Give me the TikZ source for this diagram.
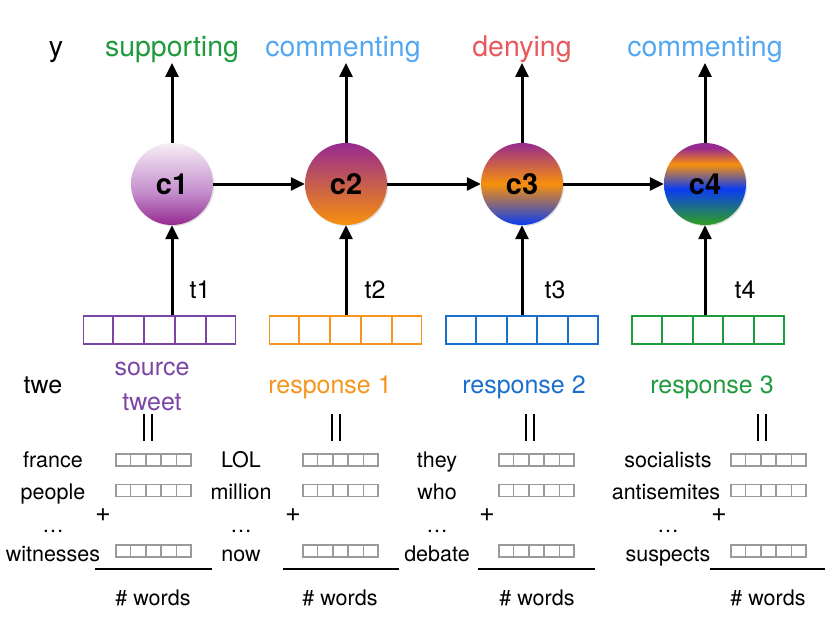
\documentclass[tikz,border=0pt]{standalone}
\usepackage{fontspec}
\setmainfont{TeX Gyre Heros}
\usetikzlibrary{arrows.meta,shadows,calc}
\definecolor{cgreen}{HTML}{1F9A3C}
\definecolor{clblue}{HTML}{54A8F2}
\definecolor{cred}{HTML}{E8585C}
\definecolor{cpurp}{HTML}{7B45A6}
\definecolor{corange}{HTML}{F5951E}
\definecolor{cblue}{HTML}{1A6FCC}
\definecolor{cgray}{HTML}{9A9A9A}
\definecolor{spurple}{HTML}{962A90}
\definecolor{slav}{HTML}{C48ECC}
\definecolor{swhite}{HTML}{F6EEF6}
\definecolor{sorange}{HTML}{F8900C}
\definecolor{sblue}{HTML}{0A3CF2}
\definecolor{sgreen}{HTML}{2E9C2A}
\pgfdeclareverticalshading{shone}{100bp}{color(0bp)=(spurple); color(25bp)=(spurple); color(45bp)=(slav); color(75bp)=(swhite); color(100bp)=(swhite)}
\pgfdeclareverticalshading{shtwo}{100bp}{color(0bp)=(sorange); color(25bp)=(sorange); color(75bp)=(spurple); color(100bp)=(spurple)}
\pgfdeclareverticalshading{shthree}{100bp}{color(0bp)=(sblue); color(25bp)=(sblue); color(50bp)=(sorange); color(75bp)=(spurple); color(100bp)=(spurple)}
\pgfdeclareverticalshading{shfour}{100bp}{color(0bp)=(sgreen); color(26bp)=(sgreen); color(47bp)=(sblue); color(62bp)=(sorange); color(72bp)=(spurple); color(100bp)=(spurple)}
\newcommand\cellsplit[2]{%
  \foreach \i in {1,...,4}
    \draw[#2] ($(#1.north west)!\i/5!(#1.north east)$) -- ($(#1.south west)!\i/5!(#1.south east)$);}
\begin{document}
\begin{tikzpicture}[x=1pt,y=-1pt,
  cnode/.style={circle, minimum size=82pt, inner sep=0pt,
    font=\fontsize{29}{33}\selectfont\bfseries,
    drop shadow={opacity=0.25,shadow xshift=1.2pt,shadow yshift=-1.2pt}},
  arr/.style={line width=3pt, -{Triangle[length=14pt,width=13pt]}},
  toplab/.style={anchor=base, font=\fontsize{28.5}{32}\selectfont, inner sep=0pt},
  reslab/.style={anchor=base, font=\fontsize{25}{29}\selectfont, inner sep=0pt},
  tlab/.style={anchor=base, font=\fontsize{25}{29}\selectfont, inner sep=0pt},
  word/.style={anchor=base, font=\fontsize{21.5}{25}\selectfont, inner sep=0pt},
  plus/.style={anchor=base, font=\fontsize{27}{31}\selectfont, inner sep=0pt, text height=13pt, text depth=0pt},
  bigvec/.style={draw, line width=1.8pt, minimum width=152pt, minimum height=28pt, inner sep=0pt},
  smallvec/.style={draw=cgray, line width=1.3pt, minimum width=75pt, minimum height=12pt, inner sep=0pt},
  sumline/.style={line width=1.2pt},
  eqline/.style={line width=1.3pt}
]
\useasboundingbox (0,0) rectangle (830,623);

% circles
\node[cnode, shading=shone] (c1) at (172,184) {c1};
\node[cnode, shading=shtwo] (c2) at (346,184) {c2};
\node[cnode, shading=shthree] (c3) at (522,184) {c3};
\node[cnode, shading=shfour] (c4) at (705,184) {c4};

% top labels
\node[toplab] (ylab) at (56,57) {y};
\node[toplab, text=cgreen] (l1) at (172,57) {supporting};
\node[toplab, text=clblue] (l2) at (343,57) {commenting};
\node[toplab, text=cred] (l3) at (522,57) {denying};
\node[toplab, text=clblue] (l4) at (705,57) {commenting};

\coordinate (y1) at (172,63);
\coordinate (y2) at (346,63);
\coordinate (y3) at (522,63);
\coordinate (y4) at (705,63);
\draw[arr] (c1.north) -- (y1);
\draw[arr] (c2.north) -- (y2);
\draw[arr] (c3.north) -- (y3);
\draw[arr] (c4.north) -- (y4);

\draw[arr] (c1.east) -- (c2.west);
\draw[arr] (c2.east) -- (c3.west);
\draw[arr] (c3.east) -- (c4.west);

% big vectors
\node[bigvec, draw=cpurp] (v1) at (159.5,330) {};
\node[bigvec, draw=corange] (v2) at (345.5,330) {};
\node[bigvec, draw=cblue] (v3) at (522,330) {};
\node[bigvec, draw=cgreen] (v4) at (708,330) {};
\cellsplit{v1}{cpurp, line width=1.8pt}
\cellsplit{v2}{corange, line width=1.8pt}
\cellsplit{v3}{cblue, line width=1.8pt}
\cellsplit{v4}{cgreen, line width=1.8pt}

\draw[arr] (c1 |- v1.north) -- (c1.south);
\draw[arr] (c2 |- v2.north) -- (c2.south);
\draw[arr] (c3 |- v3.north) -- (c3.south);
\draw[arr] (c4 |- v4.north) -- (c4.south);

\node[tlab] (t1) at (200,298) {t1};
\node[tlab] (t2) at (375,298) {t2};
\node[tlab] (t3) at (555,298) {t3};
\node[tlab] (t4) at (745,298) {t4};

% labels under vectors
\node[reslab] (twe) at (43,393) {twe};
\node[reslab, text=cpurp] (s1) at (152,375) {source};
\node[reslab, text=cpurp] (s2) at (152,410) {tweet};
\node[reslab, text=corange] (r1) at (330,393) {response 1};
\node[reslab, text=cblue] (r2) at (524,393) {response 2};
\node[reslab, text=cgreen] (r3) at (712,393) {response 3};

% equality bars
\foreach \x/\n in {148/1,336/2,530/3,762/4}{
  \coordinate (ea\n) at (\x-4,414);
  \coordinate (eb\n) at (\x-4,441);
  \coordinate (ec\n) at (\x+4,414);
  \coordinate (ed\n) at (\x+4,441);
  \draw[eqline] (ea\n) -- (eb\n);
  \draw[eqline] (ec\n) -- (ed\n);
}

% group 1
\node[word] (w11) at (53,467) {france};
\node[word] (w12) at (53,499) {people};
\node[word] (w13) at (53,532) {\dots};
\node[word] (w14) at (53,561) {witnesses};
\node[smallvec] (s11) at (153.5,460) {};
\node[smallvec] (s12) at (153.5,490.5) {};
\node[smallvec] (s14) at (153.5,551) {};
\node[plus] (p1) at (103,521) {+};
\coordinate (la1) at (95,569);
\coordinate (lb1) at (212,569);
\draw[sumline] (la1) -- (lb1);
\node[word] (n1) at (153,605) {\# words};

% group 2
\node[word] (w21) at (241,467) {LOL};
\node[word] (w22) at (241,499) {million};
\node[word] (w23) at (241,532) {\dots};
\node[word] (w24) at (241,561) {now};
\node[smallvec] (s21) at (340.5,460) {};
\node[smallvec] (s22) at (340.5,490.5) {};
\node[smallvec] (s24) at (340.5,551) {};
\node[plus] (p2) at (293,521) {+};
\coordinate (la2) at (283,569);
\coordinate (lb2) at (399,569);
\draw[sumline] (la2) -- (lb2);
\node[word] (n2) at (340,605) {\# words};

% group 3
\node[word] (w31) at (437,467) {they};
\node[word] (w32) at (437,499) {who};
\node[word] (w33) at (437,532) {\dots};
\node[word] (w34) at (437,561) {debate};
\node[smallvec] (s31) at (536.5,460) {};
\node[smallvec] (s32) at (536.5,490.5) {};
\node[smallvec] (s34) at (536.5,551) {};
\node[plus] (p3) at (487,521) {+};
\coordinate (la3) at (478,569);
\coordinate (lb3) at (595,569);
\draw[sumline] (la3) -- (lb3);
\node[word] (n3) at (537,605) {\# words};

% group 4
\node[word] (w41) at (668,467) {socialists};
\node[word] (w42) at (666,499) {antisemites};
\node[word] (w43) at (668,532) {\dots};
\node[word] (w44) at (668,561) {suspects};
\node[smallvec] (s41) at (768.5,460) {};
\node[smallvec] (s42) at (768.5,490.5) {};
\node[smallvec] (s44) at (768.5,551) {};
\node[plus] (p4) at (719,521) {+};
\coordinate (la4) at (710,569);
\coordinate (lb4) at (825,569);
\draw[sumline] (la4) -- (lb4);
\node[word] (n4) at (768,605) {\# words};

\foreach \g in {1,2,3,4}{
  \foreach \r in {1,2,4}{
    \cellsplit{s\g\r}{cgray, line width=1.3pt}
  }
}
\end{tikzpicture}
\end{document}
